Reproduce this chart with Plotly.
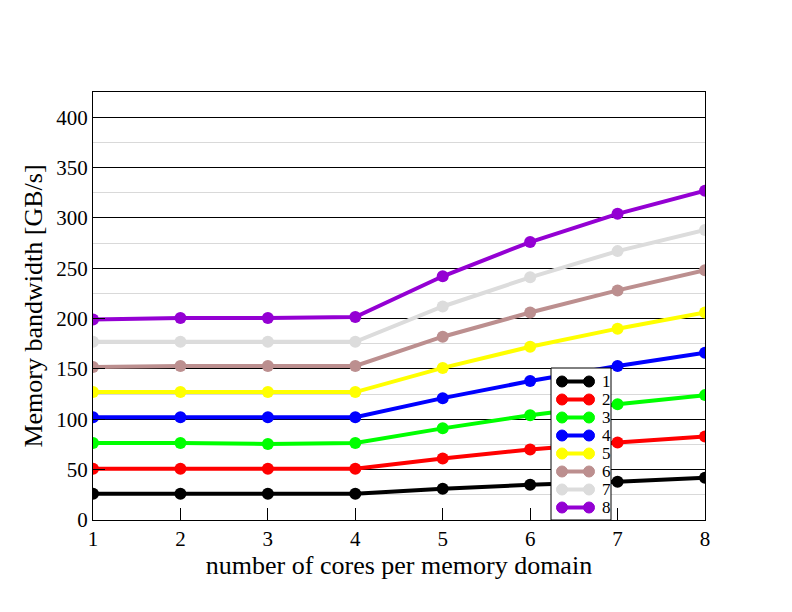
import plotly.graph_objects as go

cores = [1, 2, 3, 4, 5, 6, 7, 8]
series_names = ["1", "2", "3", "4", "5", "6", "7", "8"]
s1 = [26, 26, 26, 26, 31, 35, 38, 42]
s2 = [51, 51, 51, 51, 61, 70, 77, 83]
s3 = [76.5, 76.5, 75.5, 76.5, 91, 104, 115, 124]
s4 = [102, 102, 102, 102, 121, 138, 153, 166]
s5 = [127, 127, 127, 127, 151, 172, 190, 206]
s6 = [152, 153, 153, 153, 182, 206, 228, 248]
s7 = [177, 177, 177, 177, 212, 241, 267, 288]
s8 = [199, 200.5, 200.5, 201.5, 242, 276, 304, 327]
values = [s1, s2, s3, s4, s5, s6, s7, s8]
colors = ["#000000", "#ff0000", "#00ff00", "#0000ff", "#ffff00", "#bc8f8f", "#dcdcdc", "#9400d3"]
y_ticks = [0, 50, 100, 150, 200, 250, 300, 350, 400]

W, H = 792, 612
ML, MR, MT, MB = 93, 87, 92, 92
PW, PH = W - ML - MR, H - MT - MB

fig = go.Figure()
for name, vals, c in zip(series_names, values, colors):
    fig.add_trace(go.Scatter(
        x=cores, y=vals, name=name, mode="lines+markers",
        line=dict(color=c, width=4),
        marker=dict(color=c, size=12, symbol="circle"),
        showlegend=False,
    ))

font_family = "Liberation Serif"

# custom legend box (layout only), to match the compact original legend
def px_x(px):
    return (px - ML) / PW

def px_y(py):
    return (H - MB - py) / PH

shapes = [dict(type="rect", xref="paper", yref="paper",
               x0=px_x(551), x1=px_x(611), y0=px_y(520), y1=px_y(368),
               fillcolor="white", line=dict(color="black", width=1), layer="above")]
annotations = []
for i, (name, c) in enumerate(zip(series_names, colors)):
    cy = 381.5 + i * 18.0
    shapes.append(dict(type="line", xref="paper", yref="paper",
                       x0=px_x(562), x1=px_x(589), y0=px_y(cy), y1=px_y(cy),
                       line=dict(color=c, width=4), layer="above"))
    for cx in (562, 589):
        shapes.append(dict(type="circle", xref="paper", yref="paper",
                           x0=px_x(cx - 5.5), x1=px_x(cx + 5.5),
                           y0=px_y(cy + 5.5), y1=px_y(cy - 5.5),
                           fillcolor=c, line=dict(color=c, width=1), layer="above"))
    annotations.append(dict(xref="paper", yref="paper", x=px_x(600), y=px_y(cy),
                            text=name, showarrow=False, xanchor="left", yanchor="middle",
                            font=dict(family=font_family, size=17, color="black")))

fig.update_layout(
    width=W, height=H,
    margin=dict(l=ML, r=MR, t=MT, b=MB),
    paper_bgcolor="white", plot_bgcolor="white",
    font=dict(family=font_family, size=21, color="black"),
    showlegend=False,
    shapes=shapes,
    annotations=annotations,
    xaxis=dict(
        range=[1, 8], tickvals=cores, ticks="inside", ticklen=12,
        tickcolor="black", showgrid=False, showline=True, linecolor="black",
        linewidth=1, mirror=True, zeroline=False,
        title=dict(text="number of cores per memory domain", font=dict(size=26), standoff=2),
        tickfont=dict(size=21),
    ),
    yaxis=dict(
        range=[0, 425], tickvals=y_ticks, ticks="inside", ticklen=12,
        tickcolor="black", showgrid=True, gridcolor="black", gridwidth=1,
        showline=True, linecolor="black", linewidth=1, mirror=True, zeroline=False,
        minor=dict(dtick=25, tick0=25, showgrid=True, gridcolor="#d9d9d9", gridwidth=1, ticks=""),
        title=dict(text="Memory bandwidth [GB/s]", font=dict(size=26), standoff=6),
        tickfont=dict(size=21),
    ),
)

fig.write_html("out.html")
